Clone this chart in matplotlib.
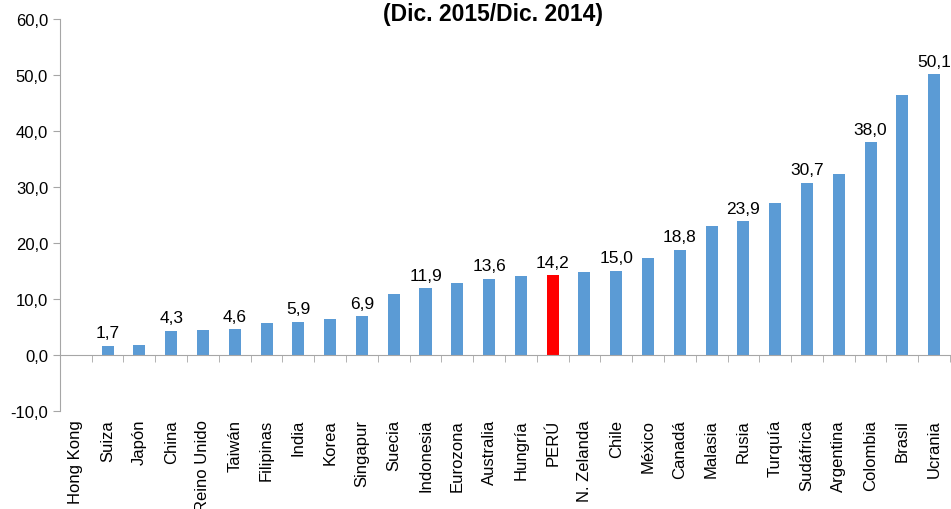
import numpy as np
import matplotlib.pyplot as plt
from matplotlib.ticker import FuncFormatter

# datos: variación % (Dic. 2015/Dic. 2014)
paises = ['Hong Kong', 'Suiza', 'Japón', 'China', 'Reino Unido', 'Taiwán', 'Filipinas',
          'India', 'Korea', 'Singapur', 'Suecia', 'Indonesia', 'Eurozona', 'Australia',
          'Hungría', 'PERÚ', 'N. Zelanda', 'Chile', 'México', 'Canadá', 'Malasia', 'Rusia',
          'Turquía', 'Sudáfrica', 'Argentina', 'Colombia', 'Brasil', 'Ucrania']
valores = [0.0, 1.7, 1.8, 4.3, 4.4, 4.6, 5.7,
           5.9, 6.4, 6.9, 10.9, 11.9, 12.9, 13.6,
           14.1, 14.2, 14.8, 15.0, 17.4, 18.8, 23.1, 23.9,
           27.1, 30.7, 32.4, 38.0, 46.5, 50.1]
y_ticks = [-10, 0, 10, 20, 30, 40, 50, 60]

plt.rcParams['font.family'] = ['Liberation Sans', 'DejaVu Sans']

fig = plt.figure(figsize=(9.51, 5.10), dpi=100)
ax = fig.add_axes([0.063, 0.192, 0.936, 0.769])

x = np.arange(len(paises))
colores = ['#FF0000' if p == 'PERÚ' else '#5B9BD5' for p in paises]
bars = ax.bar(x, valores, width=0.38, color=colores, zorder=2)

# etiquetas en barras alternas
for i, b in enumerate(bars):
    if i % 2 == 1:
        ax.annotate(f'{valores[i]:.1f}'.replace('.', ','),
                    (b.get_x() + b.get_width() / 2, b.get_height()),
                    xytext=(0, 4), textcoords='offset points',
                    ha='center', va='bottom', fontsize=12.5)

ax.set_xlim(-0.5, len(paises) - 0.5)
ax.set_ylim(-10, 60)
ax.set_yticks(y_ticks)
ax.yaxis.set_major_formatter(FuncFormatter(lambda v, p: f'{v:.1f}'.replace('.', ',')))

for s in ['top', 'right']:
    ax.spines[s].set_visible(False)
ax.spines['left'].set_color('#A6A6A6')
ax.spines['bottom'].set_color('#A6A6A6')
ax.spines['bottom'].set_position(('data', 0))

ax.set_xticks(x)
ax.set_xticklabels(paises, rotation=90, fontsize=12, va='top')
ax.set_xticks(np.arange(len(paises) + 1) - 0.5, minor=True)
ax.tick_params(axis='x', which='major', length=0, pad=46)
ax.tick_params(axis='x', which='minor', length=5, color='#A6A6A6', direction='out')
ax.tick_params(axis='y', length=5, color='#A6A6A6', labelsize=12)

fig.text(493 / 951, 1 - 15 / 510, '(Dic. 2015/Dic. 2014)', ha='center', va='center',
         fontsize=16.5, fontweight='bold')

fig.savefig('out.png', dpi=100)
